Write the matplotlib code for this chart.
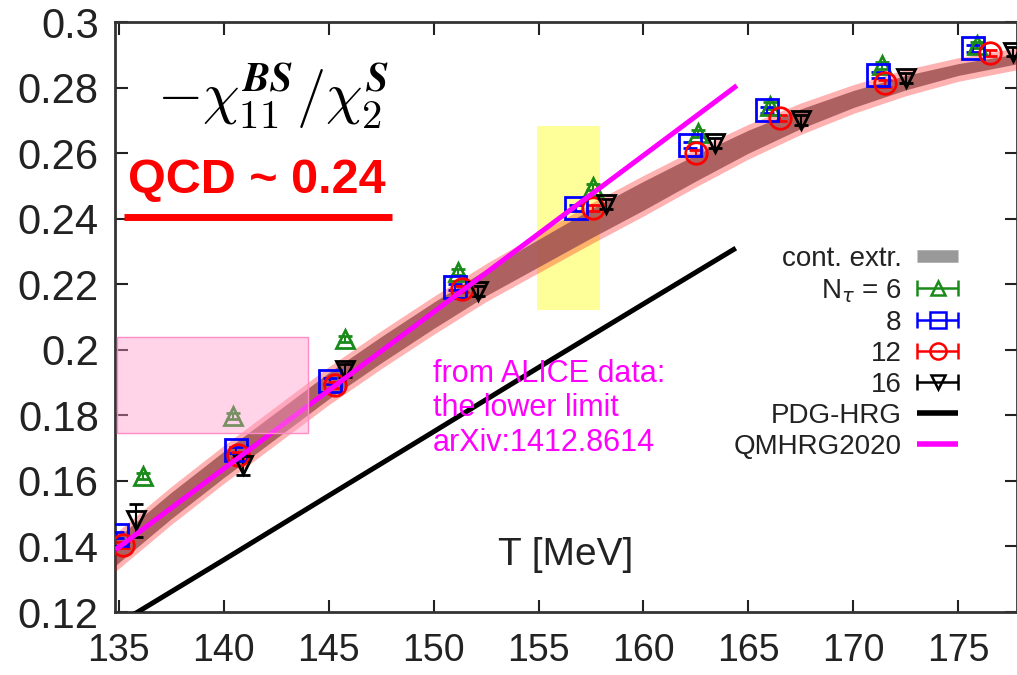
import numpy as np
import matplotlib

matplotlib.use("Agg")
import matplotlib.pyplot as plt
from matplotlib.container import ErrorbarContainer
from matplotlib.legend_handler import HandlerErrorbar
from matplotlib.lines import Line2D
from matplotlib.patches import Rectangle
from matplotlib.ticker import FuncFormatter

# continuum extrapolated band: centre and half width
band_T = [134.8, 137.5, 140, 142.5, 145, 147.5, 150, 152.5, 155, 157.5,
          160, 162.5, 165, 167.5, 170, 172.5, 175, 178]
band_mid = [0.138, 0.1525, 0.165, 0.177, 0.189, 0.2, 0.2105, 0.2205, 0.2295, 0.2385,
            0.247, 0.2555, 0.2635, 0.2705, 0.2765, 0.2815, 0.2855, 0.289]
band_err = [0.004, 0.004, 0.004, 0.004, 0.004, 0.004, 0.004, 0.004, 0.0042, 0.0044,
            0.0044, 0.004, 0.0035, 0.003, 0.0026, 0.0022, 0.0018, 0.0015]

# lattice data for each N_tau
T6 = [136.15, 140.45, 145.8, 151.15, 157.6, 162.6, 166.05, 171.35, 175.9]
r6 = [0.1615, 0.1798, 0.2033, 0.2237, 0.2497, 0.266, 0.2745, 0.2868, 0.293]
e6 = [0.001] * 9

T8 = [134.9, 140.6, 145.07, 151.03, 156.8, 162.2, 165.9, 171.2, 175.7]
r8 = [0.1435, 0.1694, 0.1905, 0.2191, 0.2432, 0.2625, 0.2731, 0.2838, 0.292]
e8 = [0.001] * 9

T12 = [135.2, 140.7, 145.3, 151.35, 157.6, 162.5, 166.5, 171.5, 176.5]
r12 = [0.1404, 0.1679, 0.1893, 0.2186, 0.2432, 0.26, 0.2707, 0.2813, 0.2905]
e12 = [0.001] * 9

T16 = [135.8, 140.9, 145.8, 152.1, 158.2, 163.4, 167.5, 172.5, 177.6]
r16 = [0.148, 0.1648, 0.1938, 0.218, 0.2445, 0.263, 0.27, 0.283, 0.291]
e16 = [0.005, 0.003, 0.002, 0.0015, 0.0015, 0.0015, 0.0015, 0.0015, 0.0015]

# hadron resonance gas curves
pdg_T = [135.0, 140, 145, 150, 155, 160, 164.4]
pdg_r = [0.1165, 0.1359, 0.1555, 0.175, 0.1946, 0.214, 0.231]
qm_T = [134.84, 140, 145, 150, 155, 160, 164.45]
qm_r = [0.139, 0.1637, 0.1876, 0.2115, 0.2354, 0.2593, 0.2806]

# highlighted regions
alice_T = (134.92, 144.0)
alice_r = (0.1746, 0.2039)
tc_T = (154.92, 157.92)
tc_r = (0.2121, 0.2683)

x_ticks = [135, 140, 145, 150, 155, 160, 165, 170, 175]
y_ticks = [0.12, 0.14, 0.16, 0.18, 0.2, 0.22, 0.24, 0.26, 0.28, 0.3]

plt.rcParams["font.family"] = ["Liberation Sans", "DejaVu Sans"]

fig = plt.figure(figsize=(10.17, 6.75), dpi=100)
ax = fig.add_axes([0.1135, 0.0933, 0.8865, 0.8741])
ax.set_xlim(134.84, 177.8)
ax.set_ylim(0.12, 0.30)

ax.add_patch(Rectangle((tc_T[0], tc_r[0]), tc_T[1] - tc_T[0], tc_r[1] - tc_r[0],
                       facecolor="#ffff80", alpha=0.8, edgecolor="none", zorder=1))

bT = np.array(band_T)
bm = np.array(band_mid)
be = np.array(band_err)
ax.fill_between(bT, bm - be, bm + be, color="#777777", alpha=0.85, lw=0, zorder=2)
ax.fill_between(bT, bm - be - 0.0018, bm + be + 0.0018, color="#ff0000", alpha=0.3,
                lw=0, zorder=3)

ms = 15.5
mew = 2.0
series = [
    (T6, r6, e6, "^", "#1a8a1a", ms - 2),
    (T8, r8, e8, "s", "#0000ff", ms),
    (T12, r12, e12, "o", "#ff0000", ms),
    (T16, r16, e16, "v", "#000000", ms - 2),
]
for T, r, e, m, c, s in series:
    ax.errorbar(T, r, yerr=e, fmt=m, mfc="none", mec=c, ecolor=c, ms=s, mew=mew,
                elinewidth=1.5, capsize=5, capthick=1.5, zorder=5)

ax.plot(pdg_T, pdg_r, color="black", lw=3.6, solid_capstyle="butt", zorder=6)
ax.plot(qm_T, qm_r, color="#ff00ff", lw=3.6, solid_capstyle="butt", zorder=6)

ax.add_patch(Rectangle((alice_T[0], alice_r[0]), alice_T[1] - alice_T[0],
                       alice_r[1] - alice_r[0], facecolor="#ff99cc", alpha=0.42,
                       edgecolor="none", zorder=7))
ax.add_patch(Rectangle((alice_T[0], alice_r[0]), alice_T[1] - alice_T[0],
                       alice_r[1] - alice_r[0], facecolor="none", edgecolor="#ff8cc4",
                       lw=1.0, zorder=7))

# axes styling
ax.set_xticks(x_ticks)
ax.set_yticks(y_ticks)
ax.yaxis.set_major_formatter(FuncFormatter(lambda v, _: f"{v:g}"))
ax.tick_params(direction="in", length=9, width=1.5, top=True, right=True,
               colors="#222222")
ax.tick_params(axis="y", labelsize=30, pad=12)
ax.tick_params(axis="x", labelsize=27, pad=15)
for sp in ax.spines.values():
    sp.set_linewidth(2.0)
    sp.set_color("#333333")

# legend: labels on the left of the symbols, right aligned
handles = [Line2D([], [], color="#999999", lw=9, solid_capstyle="butt")]
for _, _, _, m, c, s in series:
    handles.append(ax.errorbar([np.nan], [np.nan], xerr=[1.0], fmt=m, mfc="none", mec=c,
                               ecolor=c, ms=s * 0.75, mew=1.8, elinewidth=1.8,
                               capsize=6, capthick=1.8))
handles.append(Line2D([], [], color="black", lw=4, solid_capstyle="butt"))
handles.append(Line2D([], [], color="#ff00ff", lw=4, solid_capstyle="butt"))
labels = ["cont. extr.", r"N$_\tau$ = 6", "8", "12", "16", "PDG-HRG", "QMHRG2020"]
leg = ax.legend(handles, labels, loc="upper right", bbox_to_anchor=(0.935, 0.62),
                frameon=False, markerfirst=False, fontsize=20, labelspacing=0.18,
                handlelength=1.5, handletextpad=0.55, borderpad=0, borderaxespad=0,
                labelcolor="#222222",
                handler_map={ErrorbarContainer: HandlerErrorbar(xerr_size=0.75)})

# annotations
ax.text(0.046, 0.874, r"$-\chi^{\mathbfit{BS}}_{\mathbf{11}}/\chi^{\mathbfit{S}}_{\mathbf{2}}$",
        transform=ax.transAxes, fontsize=42, math_fontfamily="cm", va="center", ha="left")
ax.text(0.014, 0.71, "QCD ~ 0.24", transform=ax.transAxes, fontsize=35,
        fontweight="bold", color="#ff0000", va="baseline", ha="left")
ax.plot([0.0096, 0.307], [0.6695, 0.6695], transform=ax.transAxes, color="#ff0000",
        lw=5, solid_capstyle="butt", clip_on=False, zorder=8)
for i, line in enumerate(["from ALICE data:", "the lower limit", "arXiv:1412.8614"]):
    ax.text(0.352, 0.3906 - i * 0.0585, line, transform=ax.transAxes, fontsize=22,
            color="#ff00ff", va="baseline", ha="left", zorder=8)
ax.text(0.424, 0.0797, "T [MeV]", transform=ax.transAxes, fontsize=28,
        color="#222222", va="baseline", ha="left")

fig.savefig("out.png", dpi=100)
plt.close(fig)
